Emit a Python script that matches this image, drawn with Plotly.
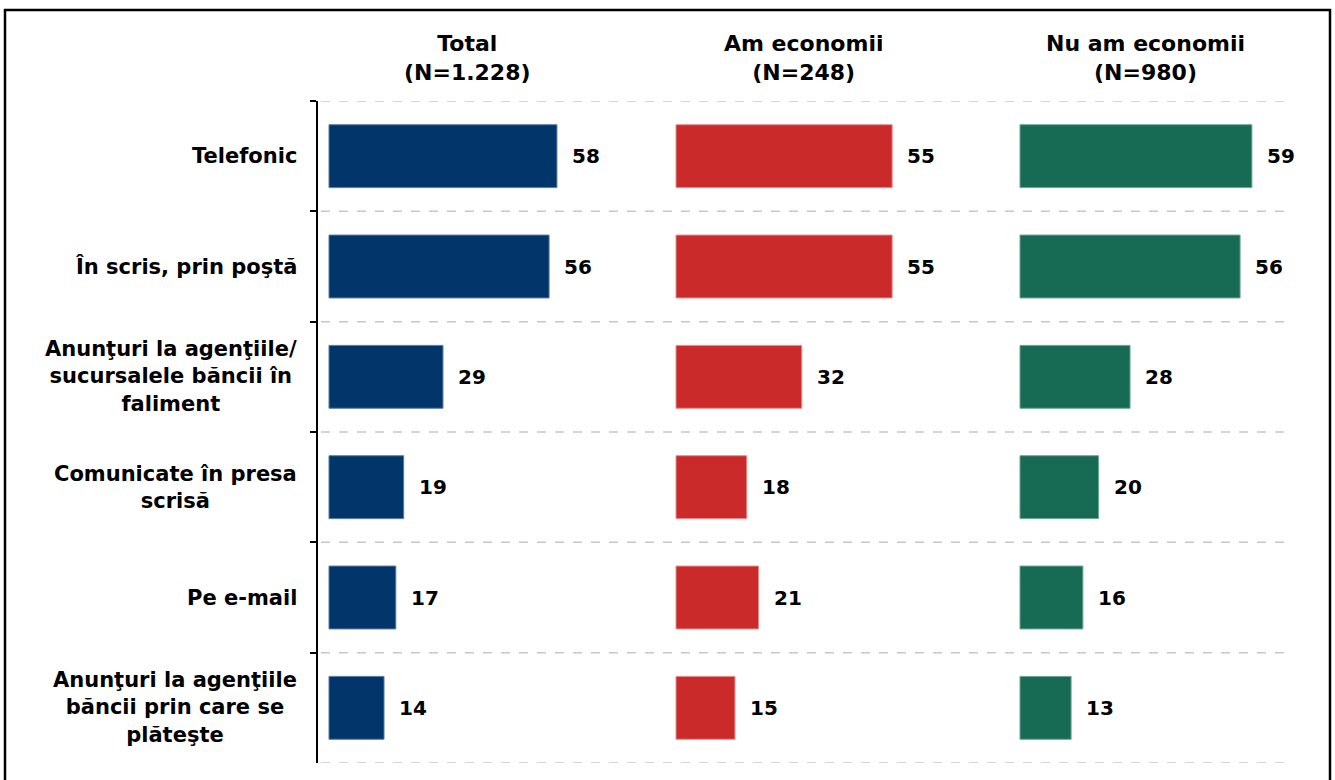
import plotly.graph_objects as go

categories = [
    "Telefonic",
    "În scris, prin poştă",
    "Anunţuri la agenţiile/<br>sucursalele băncii în<br>faliment",
    "Comunicate în presa<br>scrisă",
    "Pe e-mail",
    "Anunţuri la agenţiile<br>băncii prin care se<br>plăteşte",
]
panel_titles = ["Total<br>(N=1.228)", "Am economii<br>(N=248)", "Nu am economii<br>(N=980)"]
total = [58, 56, 29, 19, 17, 14]
am_economii = [55, 55, 32, 18, 21, 15]
nu_am_economii = [59, 56, 28, 20, 16, 13]

series = [total, am_economii, nu_am_economii]
colors = ["#02366a", "#cb2a2a", "#176a54"]
edge = ["#5b7aa0", "#e88a8a", "#6aa593"]

W, H = 1335, 780
FONT = "DejaVu Sans"

def px(x):
    return x / W

def py(y):
    return 1 - y / H

# panel layout in page pixels: (domain left, domain right, bar start)
panels = [(318, 665, 329), (665, 1009, 676), (1009, 1292, 1020)]
scale = 3.93  # px per unit
ids = ["", "2", "3"]

fig = go.Figure()
for i, (vals, col) in enumerate(zip(series, colors)):
    fig.add_trace(go.Bar(
        y=categories, x=vals, orientation="h",
        marker=dict(color=col, line=dict(color=edge[i], width=1)),
        width=0.57,
        xaxis="x" + ids[i], yaxis="y" + ids[i],
        hoverinfo="skip", showlegend=False,
    ))

layout = dict(
    width=W, height=H,
    margin=dict(l=0, r=0, t=0, b=0),
    paper_bgcolor="white", plot_bgcolor="rgba(0,0,0,0)",
)
for i, (d0, d1, b0) in enumerate(panels):
    r0 = -(b0 - d0) / scale
    r1 = (d1 - b0) / scale
    layout["xaxis" + ids[i]] = dict(domain=[px(d0), px(d1)], range=[r0, r1], visible=False,
                                   anchor="y" + ids[i], fixedrange=True)
    ydict = dict(
        domain=[py(763), py(101)],
        type="category",
        categoryorder="array", categoryarray=categories,
        range=[5.5, -0.5],
        anchor="x" + ids[i],
        showgrid=False, zeroline=False,
    )
    if i == 0:
        ydict.update(showline=True, linecolor="black", linewidth=2,
                     ticks="outside", ticklen=6, tickcolor="black", tickwidth=2,
                     tickson="boundaries", showticklabels=False)
    else:
        ydict.update(matches="y", visible=False)
    layout["yaxis" + ids[i]] = ydict

fig.update_layout(**layout)

shapes = []
for k in range(len(categories) + 1):
    shapes.append(dict(type="line", xref="paper", yref="y",
                       x0=px(321), x1=px(1292), y0=k - 0.5, y1=k - 0.5,
                       line=dict(color="#c8c8c8", width=1.5, dash="dash"), layer="below"))
shapes.append(dict(type="rect", xref="paper", yref="paper",
                   x0=px(5), x1=px(1330), y0=py(800), y1=py(10),
                   line=dict(color="black", width=2.5)))
fig.update_layout(shapes=shapes)

annotations = []
for cat in categories:
    annotations.append(dict(
        xref="paper", yref="y", x=px(299), y=cat, xanchor="right", yanchor="middle",
        text="<b>" + cat.replace("<br>", "</b><br><b>") + "</b>", showarrow=False, align="center",
        font=dict(family=FONT, size=21, color="black"),
    ))
for i, vals in enumerate(series):
    for cat, v in zip(categories, vals):
        annotations.append(dict(
            xref="x" + ids[i], yref="y" + ids[i], x=v, y=cat,
            xanchor="left", yanchor="middle", xshift=13,
            text="<b>%d</b>" % v, showarrow=False,
            font=dict(family=FONT, size=20, color="black"),
        ))
title_centers = [467, 803, 1145]
for t, cx in zip(panel_titles, title_centers):
    annotations.append(dict(
        xref="paper", yref="paper", x=px(cx), y=py(58), xanchor="center", yanchor="middle",
        text="<b>" + t.replace("<br>", "</b><br><b>") + "</b>", showarrow=False, align="center",
        font=dict(family=FONT, size=22, color="black"),
    ))
fig.update_layout(annotations=annotations)

fig.write_html(
    "out.html",
    config={"displayModeBar": False, "staticPlot": True},
    post_script="document.body.style.margin='0';document.body.style.overflow='hidden';",
)
